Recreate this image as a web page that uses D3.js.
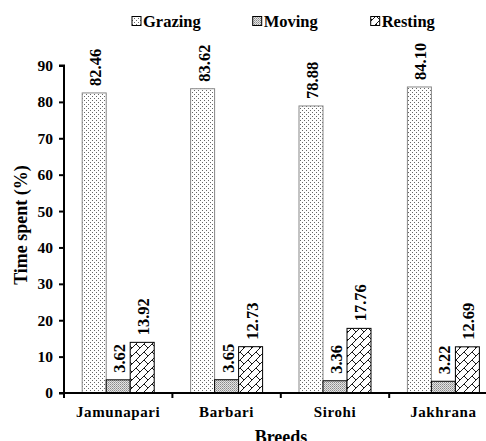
<!DOCTYPE html>
<html><head><meta charset="utf-8">
<script src="https://cdn.jsdelivr.net/npm/d3@7/dist/d3.min.js"></script>
<style>body{margin:0;background:#fff}svg{display:block}text{font-family:"Liberation Serif","Times New Roman",serif;font-weight:bold;fill:#000}</style>
</head><body>
<script>
const categories = ["Jamunapari","Barbari","Sirohi","Jakhrana"];
const seriesNames = ["Grazing","Moving","Resting"];
const grazing = [82.46, 83.62, 78.88, 84.10];
const moving = [3.62, 3.65, 3.36, 3.22];
const resting = [13.92, 12.73, 17.76, 12.69];
const yTicks = [0,10,20,30,40,50,60,70,80,90];
const series = [grazing, moving, resting];

const W = 486, H = 441;
const svg = d3.select("body").append("svg").attr("width", W).attr("height", H);
const defs = svg.append("defs");

// Patterns
const p1 = defs.append("pattern").attr("id","pGraz").attr("patternUnits","userSpaceOnUse").attr("width",4).attr("height",4);
p1.append("rect").attr("width",4).attr("height",4).attr("fill","#fff");
p1.append("rect").attr("x",0).attr("y",0).attr("width",1).attr("height",1).attr("fill","#666");
p1.append("rect").attr("x",2).attr("y",2).attr("width",1).attr("height",1).attr("fill","#666");

const p2 = defs.append("pattern").attr("id","pMov").attr("patternUnits","userSpaceOnUse").attr("width",2).attr("height",2);
p2.append("rect").attr("width",2).attr("height",2).attr("fill","#e4e4e4");
p2.append("rect").attr("x",0).attr("y",0).attr("width",1).attr("height",1).attr("fill","#888");
p2.append("rect").attr("x",1).attr("y",1).attr("width",1).attr("height",1).attr("fill","#aaa");

const p3 = defs.append("pattern").attr("id","pRest").attr("patternUnits","userSpaceOnUse").attr("width",8).attr("height",8);
p3.append("rect").attr("width",8).attr("height",8).attr("fill","#fff");
p3.append("path").attr("d","M-1,9 L9,-1 M0,0 L4,4").attr("stroke","#000").attr("stroke-width",0.9).attr("fill","none");

const fills = ["url(#pGraz)","url(#pMov)","url(#pRest)"];
const strokes = ["#888","#000","#000"];

const x0 = 64;
const x = d3.scaleBand().domain(categories).range([x0, x0 + 4*108.4]).padding(0);
const y = d3.scaleLinear().domain([0,90]).range([393, 65.5]);
const barW = 24;

// bars
const g = svg.append("g");
categories.forEach((c, i) => {
  const cx = x(c) + x.bandwidth()/2;
  series.forEach((s, k) => {
    const bx = cx - 36 + k*barW;
    g.append("rect").attr("x", bx).attr("y", y(s[i])).attr("width", barW).attr("height", y(0) - y(s[i]))
      .attr("fill", fills[k]).attr("stroke", strokes[k]).attr("stroke-width", 1);
    const lx = bx + barW/2 + 7;
    const ly = y(s[i]) - 7;
    g.append("text").attr("transform", `translate(${lx},${ly}) rotate(-90)`)
      .attr("text-anchor","start").attr("fill","#000").style("font-size","16.5px").text(s[i].toFixed(2));
  });
});

// Y axis
const yAxis = d3.axisLeft(y).tickValues(yTicks).tickSize(5).tickPadding(6).tickFormat(d3.format("d"));
const ya = svg.append("g").attr("transform", `translate(${x0},0)`).call(yAxis);
ya.select(".domain").attr("stroke","#000").attr("stroke-width",2).attr("d", `M-5,${y(90)}H0V${y(0)}`);
ya.selectAll(".tick line").attr("stroke","#000").attr("stroke-width",2);
ya.selectAll(".tick text").style("font-size","15.5px").style("font-family","Liberation Serif").style("font-weight","bold").attr("fill","#000");

// X axis line
svg.append("line").attr("x1", x0-5).attr("x2", W).attr("y1", y(0)).attr("y2", y(0)).attr("stroke","#000").attr("stroke-width",2);
const bounds = categories.map(c => x(c)).concat([x(categories[3]) + x.bandwidth()]);
bounds.forEach(b => svg.append("line").attr("x1", b).attr("x2", b).attr("y1", y(0)).attr("y2", y(0)+5).attr("stroke","#000").attr("stroke-width",2));
categories.forEach(c => {
  svg.append("text").attr("x", x(c) + x.bandwidth()/2).attr("y", 417).attr("text-anchor","middle").attr("fill","#000")
    .style("font-size","15px").style("letter-spacing","0.6px").text(c);
});

// Axis titles
svg.append("text").attr("transform", `translate(27,225) rotate(-90)`).attr("text-anchor","middle").attr("fill","#000").style("font-size","18px").text("Time spent (%)");
svg.append("text").attr("x", 281).attr("y", 443).attr("text-anchor","middle").attr("fill","#000").style("font-size","18px").text("Breeds");

// Legend
const legX = [132, 252.7, 370.7];
seriesNames.forEach((n, k) => {
  svg.append("rect").attr("x", legX[k]).attr("y", 16.5).attr("width", 9).attr("height", 9).attr("fill", fills[k]).attr("stroke","#000").attr("stroke-width",1);
  svg.append("text").attr("x", legX[k] + 11).attr("y", 27).attr("fill","#000").style("font-size","16.5px").text(n);
});
</script>
</body></html>
